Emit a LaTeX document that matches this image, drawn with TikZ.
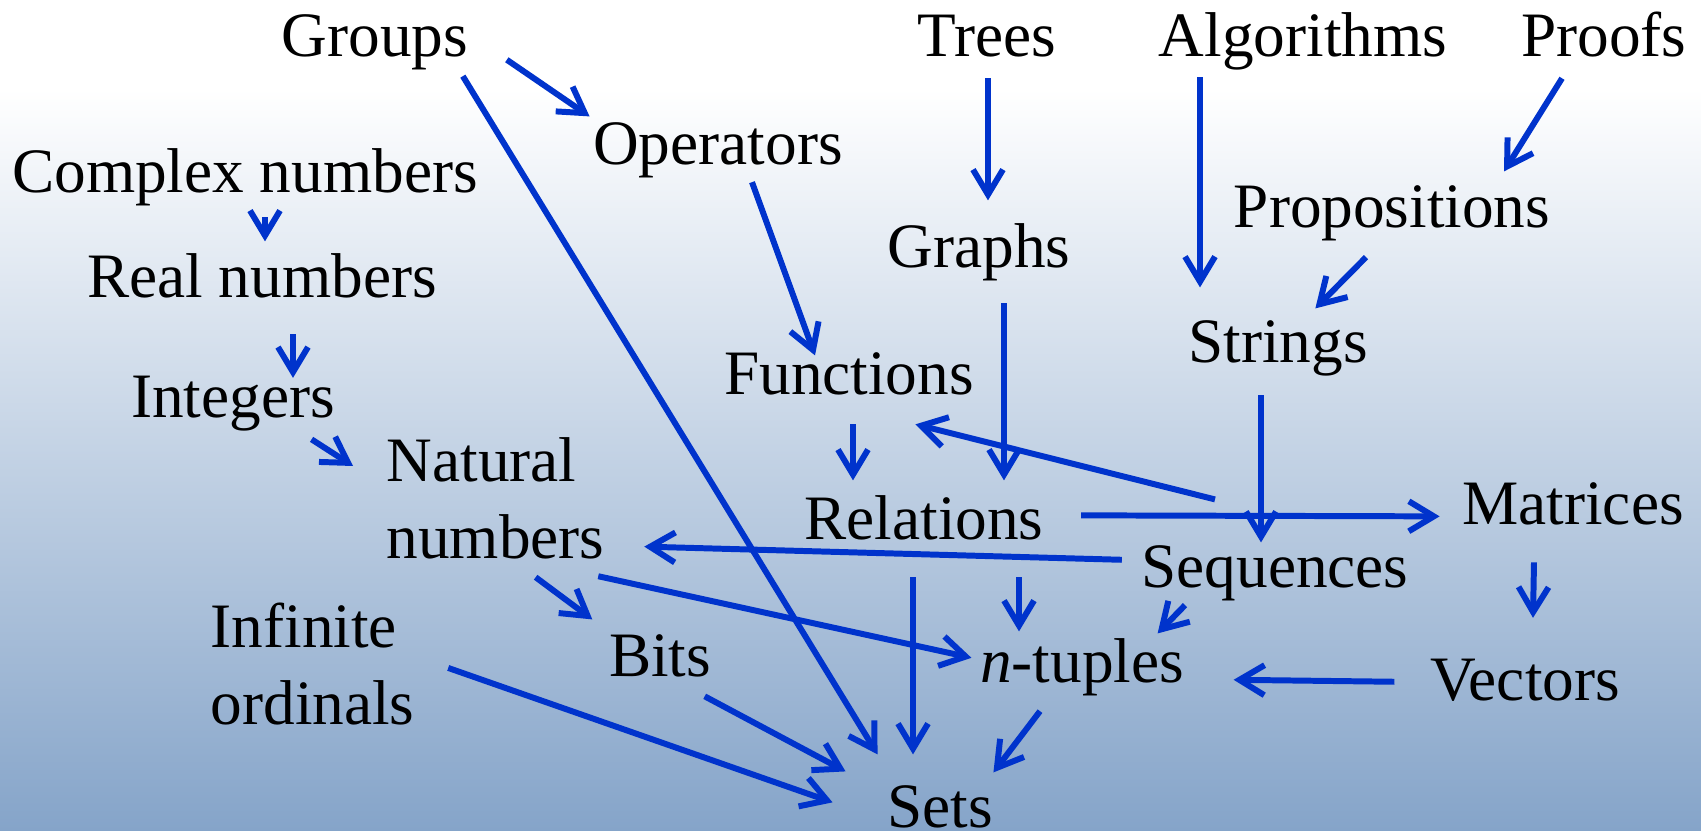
\documentclass[tikz,border=0pt]{standalone}
\usepackage{fontspec}
\setmainfont{Liberation Serif}
\usetikzlibrary{arrows.meta}
\definecolor{arrowblue}{RGB}{0,51,204}
\definecolor{bgbottom}{RGB}{133,164,201}
\begin{document}
\begin{tikzpicture}[x=0.1mm,y=-0.1mm,term/.style={inner sep=0},arr/.style={draw=arrowblue,line width=1.7pt,-{Straight Barb[length=2.5mm,width=3mm]}}]
\useasboundingbox(0,0)rectangle(1701,831);
\fill[white](0,0)rectangle(1701,90);
\shade[top color=white,bottom color=bgbottom](0,89)rectangle(1701,831);
\foreach \n/\x/\y/\txt in {groups/375/57/Groups,trees/987/57/Trees,algos/1303/57/Algorithms,proofs/1604/57/Proofs,ops/718/165/Operators,cplx/245/193/Complex numbers,props/1392/228/Propositions,graphs/979/268/Graphs,reals/262/298/Real numbers,strings/1278/363/Strings,funcs/849/395/Functions,ints/233/418/Integers,mats/1573/525/Matrices,rels/924/540/Relations,seqs/1275/588/Sequences,bits/660/677/Bits,tuples/1082/683/\textit{n}-tuples,vecs/1525/700/Vectors,sets/940/827/Sets}
  \node[font=\fontsize{18}{22}\selectfont,term,anchor=base](\n)at(\x,\y){\txt};
\node[font=\fontsize{18}{22}\selectfont,term,anchor=north west,align=left](nats)at(386,437){Natural\\numbers};
\node[font=\fontsize{18}{22}\selectfont,term,anchor=north west,align=left](ords)at(210,602){Infinite\\ordinals};
\foreach \a/\px/\py/\b/\qx/\qy in {groups.south east/-6/5/sets.north west/-9/-30,groups.east/38/17/ops.north west/-3/-6,cplx.south/20/10/reals.north/3/-12,reals.south/31/35/ints.north/60/2,ints.south east/-24/7/nats.north west/-33/29,ops.south/34/3/funcs.north/-34/3,trees.south/1/20/graphs.north/9/-23,algos.south/-103/6/strings.north/-78/-33,proofs.south/-42/20/props.north/112/-14,props.south/-26/15/strings.north east/-53/-12,graphs.south/25/21/rels.north/80/-15,funcs.south/4/28/rels.north/-71/-15,strings.south/-17/18/seqs.north/-14/-3,seqs.north/-60/-46/funcs.south east/-59/28,rels.east/37/-3/mats.west/-22/12,seqs.west/-19/-14/nats.east/39/48,nats.south/40/17/bits.north west/-16/-15,nats.south east/-7/16/tuples.west/-8/-10,rels.south/95/36/tuples.north/-63/-7,rels.south/-11/36/sets.north/-27/-30,seqs.south/-90/3/tuples.north east/-27/-5,vecs.west/-35/2/tuples.east/49/12,mats.south/-39/36/vecs.north/8/-40,tuples.south/-42/14/sets.north east/0/-12,bits.south east/-7/18/sets.north west/-41/-13,ords.east/33/4/sets.west/-54/-4}
  \draw[arr]([shift={(\px,\py)}]\a)--([shift={(\qx,\qy)}]\b);
\end{tikzpicture}
\end{document}
